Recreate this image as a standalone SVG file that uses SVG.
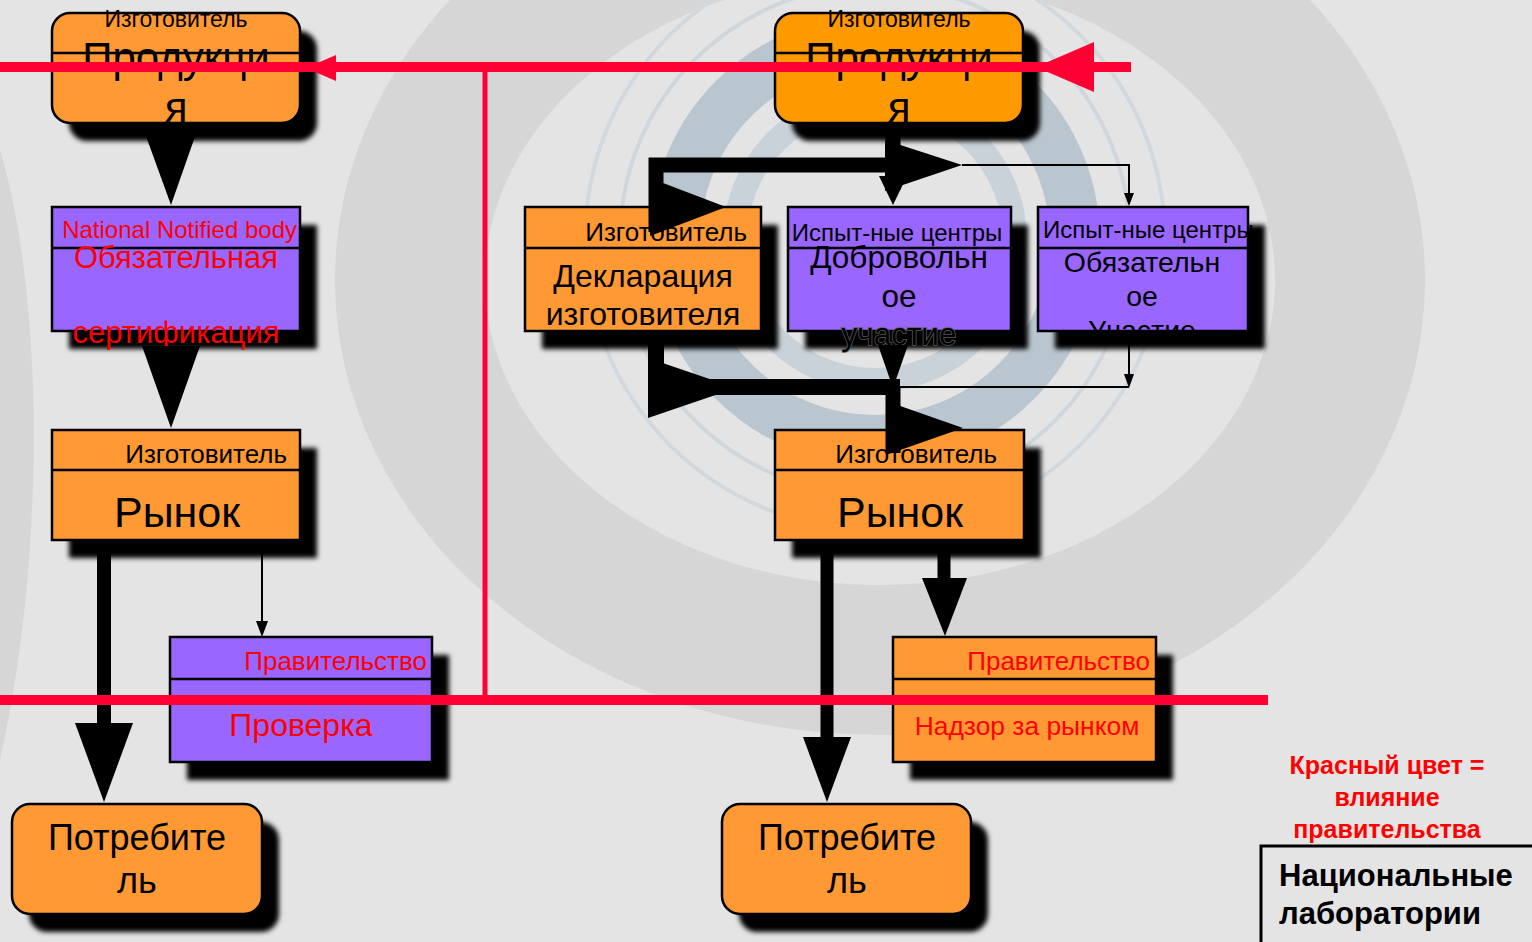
<svg xmlns="http://www.w3.org/2000/svg" width="1532" height="942" viewBox="0 0 1532 942">
<defs>
<filter id="blur" x="-20%" y="-20%" width="140%" height="140%"><feGaussianBlur stdDeviation="2.5"/></filter>
<style>
text{font-family:"Liberation Sans",Arial,sans-serif;}
.sh{fill:#000;filter:url(#blur);}
.box{stroke:#000;stroke-width:2.5;}
.or{fill:#FF9933;}
.or2{fill:#FF9900;}
.pu{fill:#9966FF;}
.div{stroke:#000;stroke-width:2.5;}
.blk{fill:#000;}
.red{fill:#FF0000;}
.m{text-anchor:middle;}
.e{text-anchor:end;}
.halo{stroke:#5a5a5a;stroke-width:1.5;paint-order:stroke;}
.thick{fill:none;stroke:#000;stroke-linejoin:miter;}
.thin{fill:none;stroke:#000;stroke-width:2;}
.ah{fill:#000;}
.gov{stroke:#FF0033;fill:none;}
.govh{fill:#FF0033;}
.leg{font-weight:bold;}
</style>
</defs>
<g id="background">
<rect x="0" y="0" width="1532" height="942" fill="#e4e4e4"/>
<ellipse cx="880" cy="280" rx="470" ry="380" fill="none" stroke="#d6d6d6" stroke-width="150"/>
<path d="M0,150 C45,300 45,560 0,760 Z" fill="#d6d6d6"/>
<circle cx="875" cy="240" r="290" fill="none" stroke="#d2d9de" stroke-width="4"/>
<circle cx="875" cy="240" r="255" fill="none" stroke="#cfd7dc" stroke-width="4"/>
<circle cx="875" cy="240" r="200" fill="none" stroke="#bac6cf" stroke-width="50"/>
<circle cx="875" cy="240" r="140" fill="none" stroke="#c9d2d8" stroke-width="24"/>
</g>
<g id="n1">
<rect class="sh" x="69" y="31" width="248" height="110" rx="18"/>
<rect class="box or" x="52" y="13" width="248" height="110" rx="18"/>
<line class="div" x1="52" y1="53" x2="300" y2="53"/>
<text class="blk m" x="176" y="27" font-size="23">Изготовитель</text>
<text class="blk m" x="176" y="72" font-size="42">Продукци</text>
<text class="blk m" x="176" y="122" font-size="42">я</text>
</g>
<g id="n2">
<rect class="sh" x="792" y="31" width="248" height="110" rx="18"/>
<rect class="box or2" x="775" y="13" width="248" height="110" rx="18"/>
<line class="div" x1="775" y1="53" x2="1023" y2="53"/>
<text class="blk m" x="899" y="27" font-size="23">Изготовитель</text>
<text class="blk m" x="899" y="72" font-size="42">Продукци</text>
<text class="blk m" x="899" y="122" font-size="42">я</text>
</g>
<g id="n3">
<rect class="sh" x="69" y="225" width="248" height="124"/>
<rect class="box pu" x="52" y="207" width="248" height="124"/>
<line class="div" x1="52" y1="248" x2="300" y2="248"/>
<text class="red e" x="297" y="238" font-size="24">National Notified body</text>
<text class="red m" x="176" y="268" font-size="31">Обязательная</text>
<text class="red m" x="176" y="343" font-size="31">сертификация</text>
</g>
<g id="n4">
<rect class="sh" x="542" y="225" width="236" height="124"/>
<rect class="box or" x="525" y="207" width="236" height="124"/>
<line class="div" x1="525" y1="248" x2="761" y2="248"/>
<text class="blk e" x="747" y="241" font-size="26">Изготовитель</text>
<text class="blk m" x="643" y="287" font-size="32">Декларация</text>
<text class="blk m" x="643" y="325" font-size="32">изготовителя</text>
</g>
<g id="n5">
<rect class="sh" x="805" y="225" width="223" height="124"/>
<rect class="box pu" x="788" y="207" width="223" height="124"/>
<line class="div" x1="788" y1="248" x2="1011" y2="248"/>
<text class="blk m" x="897" y="241" font-size="24">Испыт-ные центры</text>
<text class="blk m" x="899" y="268" font-size="31.5">Добровольн</text>
<text class="blk m" x="899" y="307" font-size="31.5">ое</text>
<text class="blk m halo" x="899" y="345" font-size="31.5">участие</text>
</g>
<g id="n6">
<rect class="sh" x="1055" y="225" width="210" height="124"/>
<rect class="box pu" x="1038" y="207" width="210" height="124"/>
<line class="div" x1="1038" y1="248" x2="1248" y2="248"/>
<text class="blk" x="1043" y="238" font-size="24">Испыт-ные центры</text>
<text class="blk m" x="1142" y="272" font-size="28.5">Обязательн</text>
<text class="blk m" x="1142" y="306" font-size="28.5">ое</text>
<text class="blk m" x="1142" y="340" font-size="28.5">Участие</text>
</g>
<g id="n7">
<rect class="sh" x="69" y="448" width="248" height="110"/>
<rect class="box or" x="52" y="430" width="248" height="110"/>
<line class="div" x1="52" y1="470" x2="300" y2="470"/>
<text class="blk e" x="287" y="463" font-size="26">Изготовитель</text>
<text class="blk m" x="177" y="527" font-size="43">Рынок</text>
</g>
<g id="n8">
<rect class="sh" x="792" y="448" width="249" height="110"/>
<rect class="box or" x="775" y="430" width="249" height="110"/>
<line class="div" x1="775" y1="470" x2="1024" y2="470"/>
<text class="blk e" x="997" y="463" font-size="26">Изготовитель</text>
<text class="blk m" x="900" y="527" font-size="43">Рынок</text>
</g>
<g id="n9">
<rect class="sh" x="187" y="655" width="262" height="125"/>
<rect class="box pu" x="170" y="637" width="262" height="125"/>
<line class="div" x1="170" y1="679" x2="432" y2="679"/>
<text class="red e" x="427" y="670" font-size="26">Правительство</text>
<text class="red m" x="301" y="736" font-size="32">Проверка</text>
</g>
<g id="n10">
<rect class="sh" x="910" y="655" width="263" height="125"/>
<rect class="box or" x="893" y="637" width="263" height="125"/>
<line class="div" x1="893" y1="679" x2="1156" y2="679"/>
<text class="red e" x="1150" y="670" font-size="26">Правительство</text>
<text class="red m" x="1027" y="735" font-size="26.4">Надзор за рынком</text>
</g>
<g id="n11">
<rect class="sh" x="29" y="822" width="250" height="110" rx="18"/>
<rect class="box or" x="12" y="804" width="250" height="110" rx="18"/>
<text class="blk m" x="137" y="850" font-size="36">Потребите</text>
<text class="blk m" x="137" y="893" font-size="36">ль</text>
</g>
<g id="n12">
<rect class="sh" x="739" y="822" width="249" height="110" rx="18"/>
<rect class="box or" x="722" y="804" width="249" height="110" rx="18"/>
<text class="blk m" x="847" y="850" font-size="36">Потребите</text>
<text class="blk m" x="847" y="893" font-size="36">ль</text>
</g>
<g id="connectors">
<polygon class="ah" points="143,128 198,128 171,205"/>
<polygon class="ah" points="142,346 200,346 171,428"/>
<line class="thick" x1="104" y1="540" x2="104" y2="725" stroke-width="14"/>
<polygon class="ah" points="75,723 133,723 104,802"/>
<line class="thin" x1="262" y1="540" x2="262" y2="623"/>
<polygon class="ah" points="256,621 268,621 262,637"/>
<line class="thick" x1="893" y1="123" x2="893" y2="190" stroke-width="15"/>
<polyline class="thick" points="900,165 656,165 656,232" stroke-width="15"/>
<polygon class="ah" points="885,140 962,165 885,191"/>
<polygon class="ah" points="879,176 907,176 893,205"/>
<polyline class="thin" points="962,165 1129,165 1129,195"/>
<polygon class="ah" points="1124,193 1134,193 1129,206"/>
<polygon class="ah" points="650,178 726,207 650,236"/>
<polyline class="thick" points="656,331 656,387 900,387" stroke-width="16"/>
<polygon class="ah" points="648,358 736,388 648,418"/>
<polygon class="ah" points="878,345 908,345 893,388"/>
<line class="thin" x1="893" y1="387" x2="1129" y2="387"/>
<line class="thin" x1="1129" y1="332" x2="1129" y2="376"/>
<polygon class="ah" points="1124,374 1134,374 1129,388"/>
<line class="thick" x1="893" y1="387" x2="893" y2="453" stroke-width="15"/>
<polygon class="ah" points="886,401 963,428 886,455"/>
<line class="thick" x1="827" y1="540" x2="827" y2="740" stroke-width="13"/>
<polygon class="ah" points="803,737 851,737 827,802"/>
<line class="thick" x1="944" y1="540" x2="944" y2="580" stroke-width="13"/>
<polygon class="ah" points="922,578 967,578 945,636"/>
</g>
<g id="government">
<line class="gov" x1="0" y1="67" x2="1131" y2="67" stroke-width="10"/>
<line class="gov" x1="485" y1="67" x2="485" y2="700" stroke-width="5"/>
<line class="gov" x1="0" y1="700" x2="1268" y2="700" stroke-width="10"/>
<polygon class="govh" points="336,55 306,68 336,81"/>
<polygon class="govh" points="1094,42 1036,67 1094,92"/>
</g>
<g id="legend">
<text class="red m leg" x="1387" y="774" font-size="25">Красный цвет =</text>
<text class="red m leg" x="1387" y="806" font-size="25">влияние</text>
<text class="red m leg" x="1387" y="838" font-size="25">правительства</text>
</g>
<g id="n13">
<rect x="1261" y="846" width="300" height="120" fill="none" stroke="#000" stroke-width="3"/>
<text class="blk leg" x="1279" y="886" font-size="31">Национальные</text>
<text class="blk leg" x="1279" y="924" font-size="31">лаборатории</text>
</g>
</svg>
